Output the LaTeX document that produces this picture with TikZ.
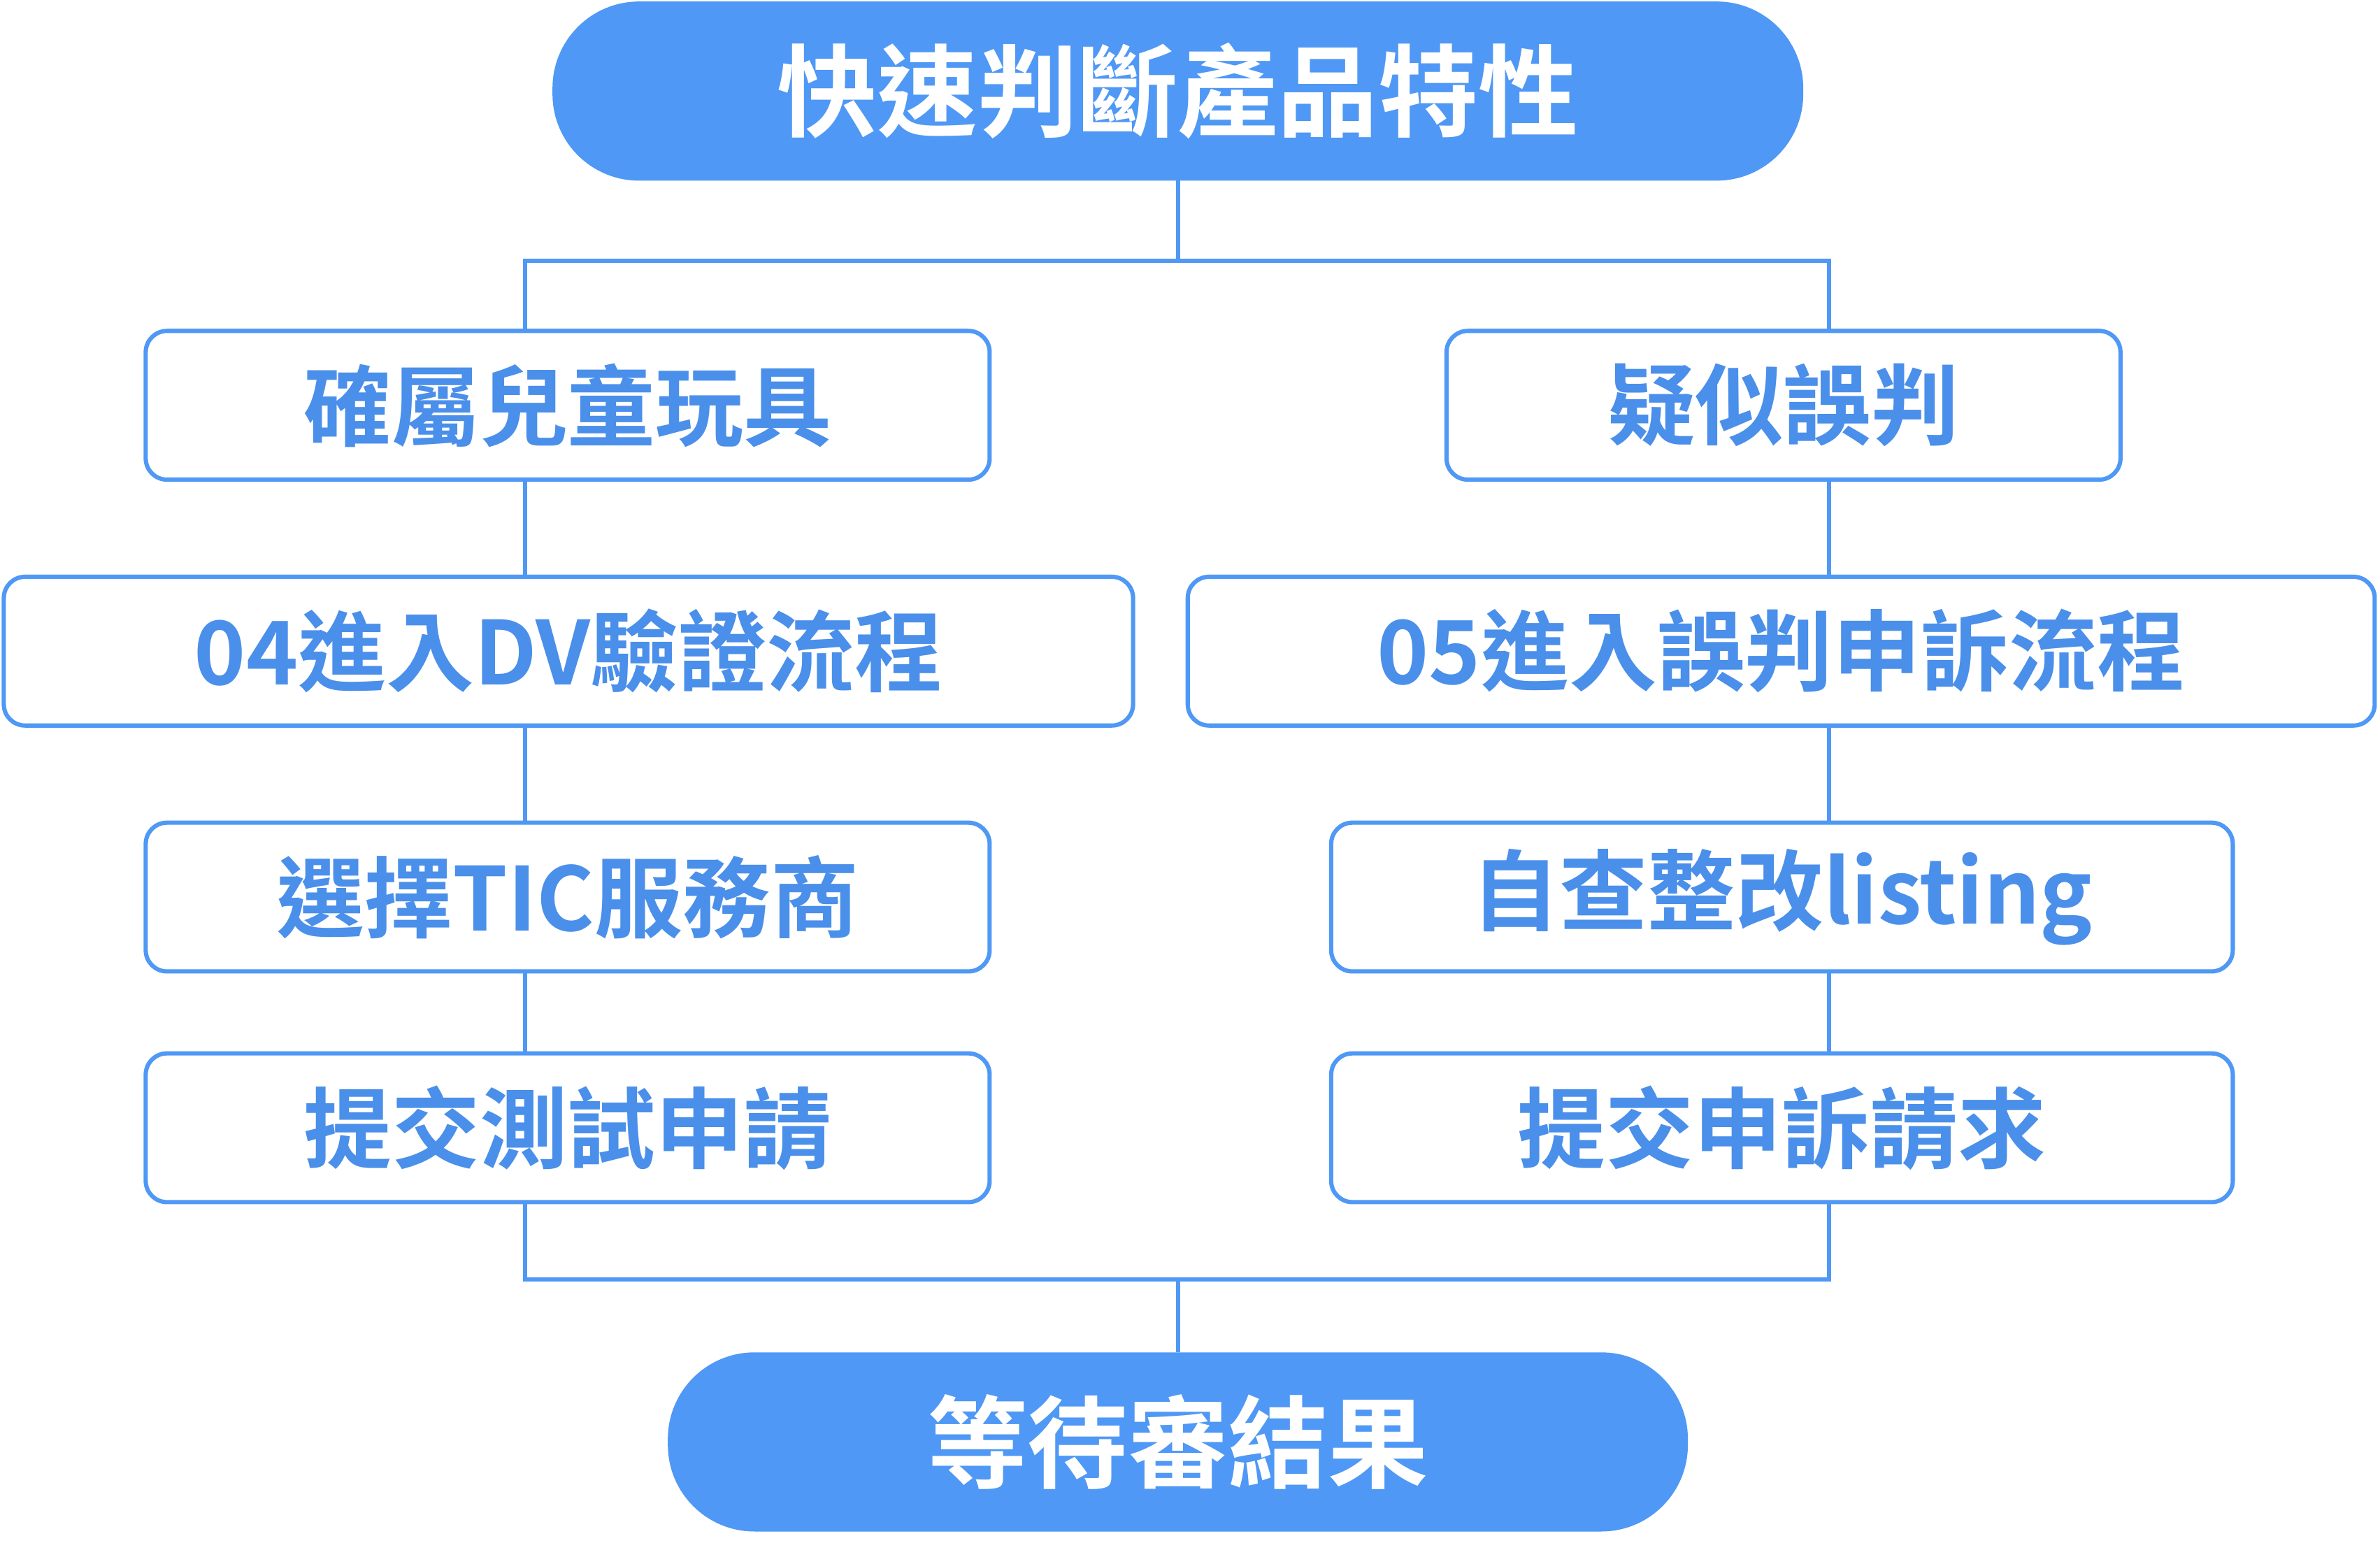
\documentclass[tikz,border=0pt]{standalone}
\usepackage{fontspec}
\newfontfamily\cjkb{Noto Sans CJK TC}[UprightFont=* Bold]
\usetikzlibrary{positioning}
\definecolor{pillblue}{RGB}{79,152,245}
\definecolor{txtblue}{RGB}{74,143,234}
\tikzset{
  pill/.style={draw=pillblue, fill=pillblue, rounded corners=28pt, line width=1pt,
    text=white, font=\cjkb\fontsize{33}{35}\selectfont, inner sep=0pt},
  stepbox/.style={draw=pillblue, rounded corners=7pt, line width=1.4pt, fill=white,
    text=txtblue, font=\cjkb\fontsize{29}{31}\selectfont, inner sep=0pt},
  link/.style={draw=pillblue, line width=1.4pt}
}
\begin{document}
\begin{tikzpicture}[x=0.5pt,y=-0.5pt]
\useasboundingbox (0,0) rectangle (1568,1030);

% main pills
\node[pill, minimum width=411pt, minimum height=58pt] (top) at (776,60) {快速判斷產品特性};
\node[pill, minimum width=335pt, minimum height=58pt] (end) at (776,950) {等待審結果};

% left column
\node[stepbox, minimum width=278pt, minimum height=49pt] (toy) at (374,267) {確屬兒童玩具};
\node[stepbox, minimum width=372pt, minimum height=49pt] (dv) at (374.5,429) {04進入DV驗證流程};
\node[stepbox, minimum width=278pt, minimum height=49pt] (tic) at (374,591) {選擇TIC服務商};
\node[stepbox, minimum width=278pt, minimum height=49pt] (test) at (374,743) {提交測試申請};

% right column
\node[stepbox, minimum width=222pt, minimum height=49pt] (doubt) at (1175,267) {疑似誤判};
\node[stepbox, minimum width=391pt, minimum height=49pt] (appeal) at (1173.5,429) {05進入誤判申訴流程};
\node[stepbox, minimum width=297pt, minimum height=49pt] (fix) at (1174,591) {自查整改listing};
\node[stepbox, minimum width=297pt, minimum height=49pt] (req) at (1174,743) {提交申訴請求};

% connectors
\coordinate (tsplit) at (776,172);
\coordinate (bsplit) at (776,843);
\draw[link] (top.south) -- (tsplit);
\draw[link] (tsplit) -- (346,172) -- (346,0 |- toy.north);
\draw[link] (tsplit) -- (1205,172) -- (1205,0 |- doubt.north);
\draw[link] (346,0 |- toy.south) -- (346,0 |- dv.north);
\draw[link] (346,0 |- dv.south) -- (346,0 |- tic.north);
\draw[link] (346,0 |- tic.south) -- (346,0 |- test.north);
\draw[link] (1205,0 |- doubt.south) -- (1205,0 |- appeal.north);
\draw[link] (1205,0 |- appeal.south) -- (1205,0 |- fix.north);
\draw[link] (1205,0 |- fix.south) -- (1205,0 |- req.north);
\draw[link] (346,0 |- test.south) -- (346,843) -- (bsplit);
\draw[link] (1205,0 |- req.south) -- (1205,843) -- (bsplit);
\draw[link] (bsplit) -- (end.north);
\end{tikzpicture}
\end{document}
